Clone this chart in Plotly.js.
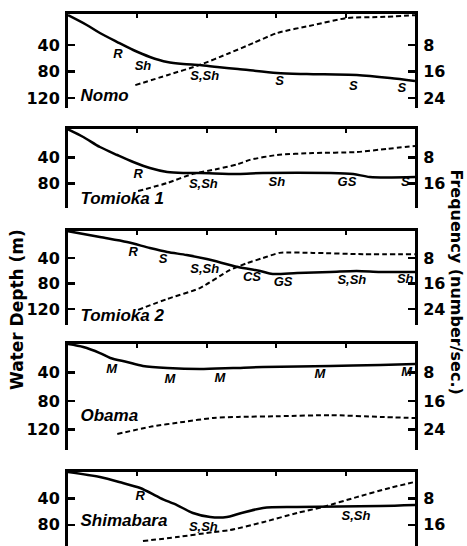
<!DOCTYPE html>
<html>
<head>
<meta charset="utf-8">
<script src="https://cdn.plot.ly/plotly-3.0.1.min.js"></script>
<style>html,body{margin:0;padding:0;background:#fff;}#chart{width:467px;height:546px;}</style>
</head>
<body>
<div id="chart"></div>
<script>
// ---- Data (distance offshore in arbitrary units 0..5, depth in m, frequency in number/sec.) ----
const stations = ["Nomo", "Tomioka 1", "Tomioka 2", "Obama", "Shimabara"];

const nomoDepthX = [0, 0.27, 0.46, 0.71, 0.94, 1.18, 1.43, 1.66, 1.90, 2.15, 2.45, 3.01, 3.44, 4.16, 4.64, 5];
const nomoDepth  = [-5, 9.8, 21.9, 35.5, 47.5, 58, 65.7, 68.7, 70.2, 73.2, 76.2, 82.3, 83.8, 85.3, 89.8, 94.3];
const nomoFreqX  = [0.97, 1.43, 1.90, 2.33, 2.67, 3.01, 3.53, 4.02, 4.50, 5];
const nomoFreq   = [20.1, 17.1, 14.0, 10.4, 7.4, 4.4, 2.0, -0.15, -0.45, -1.0];
const nomoSed    = ["R", "Sh", "S,Sh", "S", "S", "S"];
const nomoSedX   = [0.72, 1.08, 1.97, 3.05, 4.11, 4.81];
const nomoSedD   = [55, 73, 88, 96, 103, 106];

const tom1DepthX = [0, 0.22, 0.46, 0.71, 0.94, 1.18, 1.43, 1.66, 1.90, 2.45, 2.81, 3.78, 4.11, 4.35, 5];
const tom1Depth  = [-3, 8.8, 24.2, 36.5, 47.2, 56.5, 62.6, 64.2, 64.2, 65.7, 64.2, 64.2, 65.7, 70.3, 70.3];
const tom1FreqX  = [1.01, 1.43, 1.80, 2.15, 2.45, 2.62, 3.01, 3.53, 4.16, 4.60, 5];
const tom1Freq   = [18.4, 15.9, 13.1, 11.6, 10.1, 8.8, 7.3, 6.7, 6.4, 5.4, 4.5];
const tom1Sed    = ["R", "S,Sh", "Sh", "GS", "S"];
const tom1SedX   = [1.01, 1.95, 3.01, 4.02, 4.86];
const tom1SedD   = [67, 82.6, 79.5, 79.5, 79.5];

const tom2DepthX = [0, 0.46, 0.85, 1.18, 1.43, 1.71, 2.0, 2.45, 2.77, 2.95, 3.30, 3.78, 4.16, 4.50, 5];
const tom2Depth  = [-2, 7.2, 15, 24.4, 30.6, 35.3, 41.6, 54, 60.3, 65, 63.4, 61.9, 60.3, 61.9, 61.9];
const tom2FreqX  = [1.01, 1.43, 1.90, 2.33, 2.58, 2.81, 3.05, 3.53, 4.25, 5];
const tom2Freq   = [24.2, 20.8, 17.4, 11.8, 9.6, 8.0, 6.4, 6.4, 6.8, 6.8];
const tom2Sed    = ["R", "S", "S,Sh", "CS", "GS", "S,Sh", "Sh"];
const tom2SedX   = [0.94, 1.37, 1.97, 2.65, 3.10, 4.09, 4.86];
const tom2SedD   = [32.2, 43, 58.8, 71.3, 79, 76, 74.4];

const obamaDepthX = [0, 0.22, 0.46, 0.61, 0.85, 1.08, 1.43, 1.90, 2.38, 2.81, 3.78, 4.50, 5];
const obamaDepth  = [0, 4.2, 12.7, 19.7, 25.3, 30.9, 33.8, 35.2, 33.8, 32.3, 30.9, 29.5, 28.1];
const obamaFreqX  = [0.71, 1.18, 1.66, 2.09, 2.45, 3.05, 3.78, 4.50, 5];
const obamaFreq   = [25.3, 23.3, 21.9, 20.8, 20.5, 20.3, 20.0, 20.5, 20.8];
const obamaSed    = ["M", "M", "M", "M", "M"];
const obamaSedX   = [0.63, 1.47, 2.19, 3.63, 4.88];
const obamaSedD   = [36.6, 50.6, 49.2, 43.6, 40.8];

const shimaDepthX = [0, 0.46, 0.79, 1.04, 1.33, 1.57, 1.80, 2.05, 2.29, 2.45, 2.81, 3.30, 4.50, 5];
const shimaDepth  = [0, 7.6, 16.7, 24.2, 39.4, 50, 62.1, 68.2, 68.2, 63.6, 54.5, 53, 51.5, 50];
const shimaFreqX  = [1.08, 1.57, 2.09, 2.33, 2.81, 3.30, 3.67, 4.16, 4.64, 5];
const shimaFreq   = [20.9, 19.7, 18.2, 17.6, 15.2, 12.4, 10.6, 7.6, 4.8, 3.0];
const shimaSed    = ["R", "S,Sh", "S,Sh"];
const shimaSedX   = [1.04, 1.95, 4.15];
const shimaSedD   = [37.9, 84.8, 68.2];

const depthTicks = [[40, 80, 120], [40, 80], [40, 80, 120], [40, 80, 120], [40, 80]];
const freqTicks  = [[8, 16, 24], [8, 16], [8, 16, 24], [8, 16, 24], [8, 16]];
const nameX = [0.18, 0.18, 0.18, 0.18, 0.18];
const nameD = [118.5, 105.7, 132, 102.7, 75.8];

const panels = [
  {dx: nomoDepthX, d: nomoDepth, fx: nomoFreqX, f: nomoFreq, s: nomoSed, sx: nomoSedX, sd: nomoSedD},
  {dx: tom1DepthX, d: tom1Depth, fx: tom1FreqX, f: tom1Freq, s: tom1Sed, sx: tom1SedX, sd: tom1SedD},
  {dx: tom2DepthX, d: tom2Depth, fx: tom2FreqX, f: tom2Freq, s: tom2Sed, sx: tom2SedX, sd: tom2SedD},
  {dx: obamaDepthX, d: obamaDepth, fx: obamaFreqX, f: obamaFreq, s: obamaSed, sx: obamaSedX, sd: obamaSedD},
  {dx: shimaDepthX, d: shimaDepth, fx: shimaFreqX, f: shimaFreq, s: shimaSed, sx: shimaSedX, sd: shimaSedD}
];

// ---- Layout geometry (pixels) ----
const W = 467, H = 546;
const plotLeft = 68, plotRight = 415;
const geom = [
  {top: 14,  bottom: 108, dTop: -6.8, dBot: 135},
  {top: 129, bottom: 208, dTop: -3.5, dBot: 118},
  {top: 231, bottom: 325, dTop: -2.2, dBot: 144.7},
  {top: 344, bottom: 450, dTop: 0,    dBot: 149},
  {top: 472, bottom: 546, dTop: 0,    dBot: 112}
];

const tickFont = {family: "DejaVu Sans", size: 16, color: "#000", weight: "bold"};
const sedFont  = {family: "Liberation Sans", size: 13, color: "#000", weight: "bold", style: "italic"};
const nameFont = {family: "Liberation Sans", size: 17, color: "#000", weight: "bold", style: "italic"};

const traces = [];
const layout = {
  width: W, height: H,
  margin: {l: 0, r: 0, t: 0, b: 0},
  paper_bgcolor: "#fff", plot_bgcolor: "rgba(0,0,0,0)",
  showlegend: false,
  annotations: [
    {text: "Water Depth (m)", xref: "paper", yref: "paper", x: 17 / W, y: 1 - 310 / H,
     textangle: -90, showarrow: false, xanchor: "center", yanchor: "middle",
     font: {family: "DejaVu Sans", size: 17, color: "#000", weight: "bold"}},
    {text: "Frequency (number/sec.)", xref: "paper", yref: "paper", x: 456 / W, y: 1 - 281.5 / H,
     textangle: 90, showarrow: false, xanchor: "center", yanchor: "middle",
     font: {family: "DejaVu Sans", size: 16, color: "#000", weight: "bold"}}
  ]
};

panels.forEach((p, i) => {
  const k = i + 1;
  const xName = "x" + k, yL = "y" + (2 * k - 1), yR = "y" + (2 * k);
  const g = geom[i];
  const dom = [1 - g.bottom / H, 1 - g.top / H];
  layout["xaxis" + k] = {
    domain: [plotLeft / W, plotRight / W], anchor: yL, side: "top", range: [0, 5],
    showline: true, linewidth: 3, linecolor: "#000", ticks: "inside", ticklen: 4, tickwidth: 2,
    tickcolor: "#000", tickvals: [1, 2, 3, 4], showticklabels: false, showgrid: false, zeroline: false,
    fixedrange: true
  };
  layout["yaxis" + (2 * k - 1)] = {
    domain: dom, anchor: xName, range: [g.dBot, g.dTop], side: "left",
    showline: true, linewidth: 3, linecolor: "#000", ticks: "inside", ticklen: 7, tickwidth: 2.5,
    tickcolor: "#000", tickvals: depthTicks[i], ticktext: depthTicks[i].map(String), tickfont: tickFont,
    showgrid: false, zeroline: false, ticklabelstandoff: 2
  };
  layout["yaxis" + (2 * k)] = {
    domain: dom, anchor: xName, overlaying: yL, range: [g.dBot / 5, g.dTop / 5], side: "right",
    showline: true, linewidth: 3, linecolor: "#000", ticks: "inside", ticklen: 7, tickwidth: 2.5,
    tickcolor: "#000", tickvals: freqTicks[i], ticktext: freqTicks[i].map(String), tickfont: tickFont,
    showgrid: false, zeroline: false, ticklabelstandoff: 2
  };
  traces.push({
    type: "scatter", mode: "lines", x: p.dx, y: p.d, xaxis: xName, yaxis: yL,
    line: {color: "#000", width: 2.5, shape: "spline", smoothing: 0.8}, hoverinfo: "skip"
  });
  traces.push({
    type: "scatter", mode: "lines", x: p.fx, y: p.f, xaxis: xName, yaxis: yR,
    line: {color: "#000", width: 2, dash: "5px,3px", shape: "spline", smoothing: 0.6}, hoverinfo: "skip"
  });
  traces.push({
    type: "scatter", mode: "text", x: p.sx, y: p.sd, text: p.s, xaxis: xName, yaxis: yL,
    textposition: "middle center", textfont: sedFont, cliponaxis: false, hoverinfo: "skip"
  });
  traces.push({
    type: "scatter", mode: "text", x: [nameX[i]], y: [nameD[i]], text: [stations[i]], xaxis: xName, yaxis: yL,
    textposition: "middle right", textfont: nameFont, cliponaxis: false, hoverinfo: "skip"
  });
});

Plotly.newPlot("chart", traces, layout, {staticPlot: true, displayModeBar: false});
</script>
</body>
</html>
